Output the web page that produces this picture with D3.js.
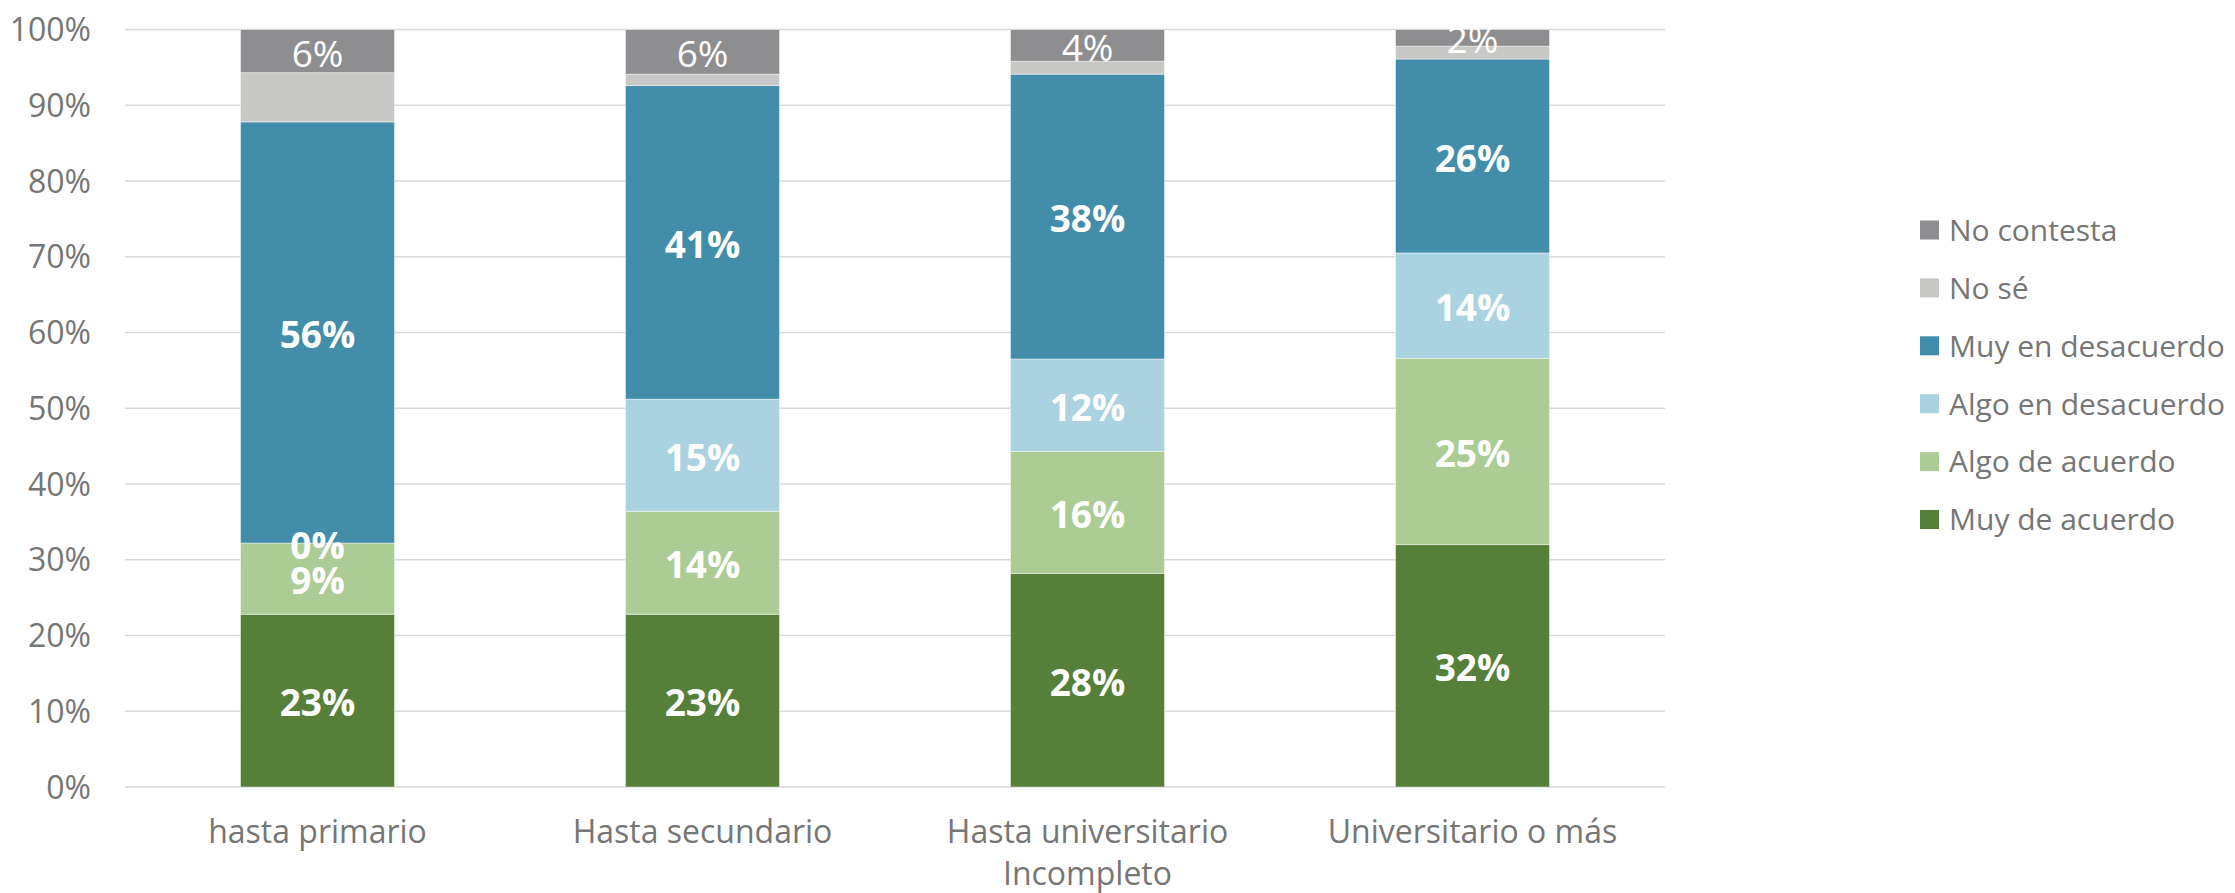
<!DOCTYPE html>
<html>
<head>
<meta charset="utf-8">
<script src="https://cdn.jsdelivr.net/npm/d3@7"></script>
<style>
  body { margin: 0; background: #fff; }
  svg { display: block; font-family: "Segoe UI", "Open Sans", sans-serif; }
  .tick-label { fill: #767676; font-size: 32px; }
  .cat-label { fill: #767676; font-size: 32px; }
  .legend-label { fill: #767676; font-size: 30px; }
  .grid { stroke: #d9d9d9; stroke-width: 1.5; }
  .seg-label { fill: #fff; font-size: 37px; font-weight: bold; }
  .seg-label.thin { font-weight: normal; }
</style>
</head>
<body>
<script>
// categories (x axis), bottom line break handled by "\n"
var categories = ["hasta primario", "Hasta secundario", "Hasta universitario\nIncompleto", "Universitario o más"];

// series, bottom to top of each stack
var seriesNames = ["Muy de acuerdo", "Algo de acuerdo", "Algo en desacuerdo", "Muy en desacuerdo", "No sé", "No contesta"];
var seriesColors = ["#56803a", "#abcc95", "#aad2e0", "#428daa", "#c8c8c6", "#8e8e90"];

var muyDeAcuerdo      = [0.228, 0.228, 0.282, 0.320];
var algoDeAcuerdo     = [0.094, 0.136, 0.161, 0.246];
var algoEnDesacuerdo  = [0.000, 0.148, 0.122, 0.139];
var muyEnDesacuerdo   = [0.556, 0.414, 0.376, 0.256];
var noSe              = [0.065, 0.015, 0.017, 0.017];
var noContesta        = [0.057, 0.059, 0.042, 0.022];

var yTicks = [0, 0.1, 0.2, 0.3, 0.4, 0.5, 0.6, 0.7, 0.8, 0.9, 1.0];

var w = 2235, h = 893;

var svg = d3.select("body").append("svg")
    .attr("width", w)
    .attr("height", h);

var x = d3.scaleBand()
    .domain(categories)
    .range([125, 1665])
    .paddingInner(0.6)
    .paddingOuter(0.3);

var y = d3.scaleLinear()
    .domain([0, 1])
    .range([787, 29.5]);

// gridlines + y labels
svg.append("g").selectAll("line")
    .data(yTicks)
    .enter().append("line")
    .attr("class", "grid")
    .attr("x1", 125)
    .attr("x2", 1665)
    .attr("y1", function(d) { return y(d); })
    .attr("y2", function(d) { return y(d); });

svg.append("g").selectAll("text")
    .data(yTicks)
    .enter().append("text")
    .attr("class", "tick-label")
    .attr("x", 91)
    .attr("y", function(d) { return y(d); })
    .attr("dy", "0.36em")
    .attr("text-anchor", "end")
    .text(d3.format(".0%"));

// stack
var allValues = [muyDeAcuerdo, algoDeAcuerdo, algoEnDesacuerdo, muyEnDesacuerdo, noSe, noContesta];
var table = categories.map(function(c, i) {
    var row = { cat: c };
    seriesNames.forEach(function(s, j) { row[s] = allValues[j][i]; });
    return row;
});
var stacked = d3.stack().keys(seriesNames)(table);

var layers = svg.append("g").selectAll("g")
    .data(stacked)
    .enter().append("g")
    .attr("fill", function(d, i) { return seriesColors[i]; });

layers.selectAll("rect")
    .data(function(d) { return d; })
    .enter().append("rect")
    .attr("x", function(d) { return x(d.data.cat); })
    .attr("width", x.bandwidth())
    .attr("y", function(d) { return y(d[1]); })
    .attr("height", function(d) { return y(d[0]) - y(d[1]); })
    .attr("stroke", "rgba(255,255,255,0.45)")
    .attr("stroke-width", 1);

// data labels (No sé has none)
stacked.forEach(function(layer, i) {
    if (seriesNames[i] === "No sé") return;
    svg.append("g").selectAll("text")
        .data(layer)
        .enter().append("text")
        .attr("class", seriesNames[i] === "No contesta" ? "seg-label thin" : "seg-label")
        .attr("x", function(d) { return x(d.data.cat) + x.bandwidth() / 2; })
        .attr("y", function(d) { return (y(d[0]) + y(d[1])) / 2; })
        .attr("dy", "0.42em")
        .attr("text-anchor", "middle")
        .text(function(d) { return d3.format(".0%")(d[1] - d[0]); });
});

// category labels
categories.forEach(function(c) {
    var lines = c.split("\n");
    var t = svg.append("text")
        .attr("class", "cat-label")
        .attr("text-anchor", "middle")
        .attr("x", x(c) + x.bandwidth() / 2)
        .attr("y", 843);
    lines.forEach(function(l, k) {
        t.append("tspan")
            .attr("x", x(c) + x.bandwidth() / 2)
            .attr("dy", k === 0 ? 0 : 42)
            .text(l);
    });
});

// legend, top entry is last series
var legendOrder = seriesNames.slice().reverse();
var legend = svg.append("g").selectAll("g")
    .data(legendOrder)
    .enter().append("g")
    .attr("transform", function(d, i) { return "translate(1920," + (230 + i * 57.9) + ")"; });

legend.append("rect")
    .attr("x", 0)
    .attr("y", -9.5)
    .attr("width", 19)
    .attr("height", 19)
    .attr("fill", function(d) { return seriesColors[seriesNames.indexOf(d)]; });

legend.append("text")
    .attr("class", "legend-label")
    .attr("x", 29)
    .attr("y", 0)
    .attr("dy", "0.36em")
    .text(function(d) { return d; });
</script>
</body>
</html>
